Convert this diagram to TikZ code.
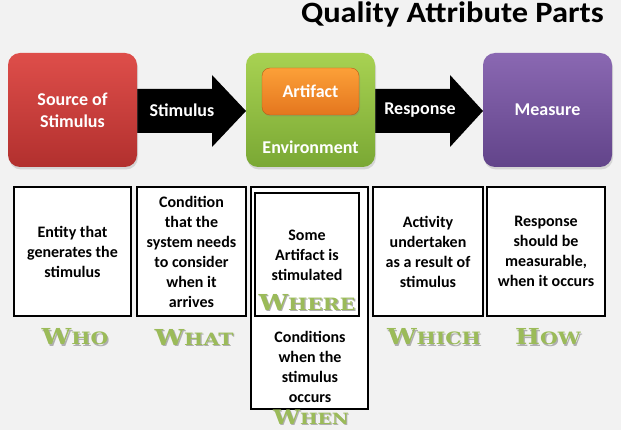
\documentclass[tikz,border=0pt]{standalone}
\usepackage{fontspec}
\setmainfont{Carlito}
\newfontfamily\titlefont[FakeStretch=1.1]{Carlito}
\newfontfamily\cpfont[FakeStretch=1.2]{DejaVu Serif}
\usetikzlibrary{shadows}
\definecolor{bg}{RGB}{242,242,242}
\definecolor{redT}{RGB}{222,78,74}
\definecolor{redB}{RGB}{178,48,46}
\definecolor{grnT}{RGB}{168,210,82}
\definecolor{grnB}{RGB}{122,168,52}
\definecolor{orgT}{RGB}{252,160,56}
\definecolor{orgB}{RGB}{228,118,30}
\definecolor{purT}{RGB}{138,104,178}
\definecolor{purB}{RGB}{98,68,138}
\definecolor{lgreen}{RGB}{155,187,89}
\definecolor{lshadow}{RGB}{175,175,175}
\newcommand\cpword[2]{{\fontsize{22}{22}\selectfont #1}{\fontsize{17}{17}\selectfont #2}}
\newcommand\cpwordsm[2]{{\fontsize{20}{20}\selectfont #1}{\fontsize{15.5}{15.5}\selectfont #2}}
\tikzset{
  topbox/.style={rounded corners=12pt, minimum width=129pt, minimum height=114pt,
    shading=axis, shading angle=0, text=white, align=center,
    font=\bfseries\fontsize{18}{22}\selectfont,
    drop shadow={opacity=0.25, shadow xshift=1pt, shadow yshift=-2.5pt}},
  whitetxt/.style={text=white, align=center, font=\bfseries\fontsize{18}{22}\selectfont},
  blockarrow/.style={fill=black},
  descbox/.style={draw=black, line width=2.2pt, fill=white, minimum height=129pt,
    align=center, font=\bfseries\fontsize{16}{20}\selectfont, inner sep=0pt},
  desctxt/.style={align=center, font=\bfseries\fontsize{16}{20}\selectfont, inner sep=0pt},
  lbl/.style={text=lgreen, font=\cpfont\bfseries, inner sep=0pt},
  lblshadow/.style={text=lshadow, font=\cpfont\bfseries, inner sep=0pt}
}
\begin{document}
\begin{tikzpicture}[x=1pt,y=-1pt]
\fill[bg] (0,0) rectangle (621,430);
\useasboundingbox (0,0) rectangle (621,430);

% title
\node[anchor=base east, inner sep=0pt, font=\titlefont\fontsize{29.5}{34}\selectfont\bfseries] (title) at (604,23) {Quality Attribute Parts};

% block arrows (drawn first, behind boxes)
\fill[blockarrow] (137,89) -- (212,89) -- (212,75) -- (246,111) -- (212,147) -- (212,133) -- (137,133) -- cycle;
\fill[blockarrow] (375,89) -- (450,89) -- (450,75) -- (483,111) -- (450,147) -- (450,133) -- (375,133) -- cycle;

% top boxes
\node[topbox, top color=redT, bottom color=redB] (src) at (72.5,110) {Source of\\Stimulus};
\node[topbox, top color=grnT, bottom color=grnB] (env) at (310.5,110) {};
\node[topbox, top color=purT, bottom color=purB] (meas) at (547.5,110) {Measure};
\node[rounded corners=8pt, minimum width=97pt, minimum height=47pt, shading=axis,
  top color=orgT, bottom color=orgB, draw=orgB!80!black, line width=0.4pt,
  drop shadow={opacity=0.3, shadow xshift=1pt, shadow yshift=-1.5pt}] (art) at (310.5,91.5) {};
\node[whitetxt] (arttxt) at (art) {Artifact};
\node[whitetxt] (envtxt) at (310.5,147) {Environment};

% arrow labels
\node[whitetxt] (stim) at (182,110) {Stimulus};
\node[whitetxt] (resp) at (420,110) {Response};

% description boxes
\node[descbox, minimum width=117pt] (d1) at (72.5,251.5) {Entity that\\generates the\\stimulus};
\node[descbox, minimum width=109pt] (d2) at (191.5,251.5) {Condition\\that the\\system needs\\to consider\\when it\\arrives};
\node[descbox, minimum width=117pt, minimum height=222pt] (d3) at (309.5,298) {};
\node[descbox, minimum width=104pt, minimum height=123pt] (d3in) at (307,254.5) {};
\node[desctxt] (d3txt) at (307,255) {Some\\Artifact is\\stimulated};
\node[desctxt] (d3low) at (310,367) {Conditions\\when the\\stimulus\\occurs};
\node[descbox, minimum width=110pt] (d4) at (428,251.5) {Activity\\undertaken\\as a result of\\stimulus};
\node[descbox, minimum width=118pt] (d5) at (546,251.5) {Response\\should be\\measurable,\\when it occurs};

% green labels
\node[lblshadow] at (76.2,338.5) {\cpword{W}{HO}};
\node[lbl] (who) at (75,337) {\cpword{W}{HO}};
\node[lblshadow] at (195.2,338.5) {\cpword{W}{HAT}};
\node[lbl] (what) at (194,337) {\cpword{W}{HAT}};
\node[lblshadow] at (308.2,303.5) {\cpword{W}{HERE}};
\node[lbl] (where) at (307,302) {\cpword{W}{HERE}};
\node[lblshadow] at (435.2,338.5) {\cpword{W}{HICH}};
\node[lbl] (which) at (434,337) {\cpword{W}{HICH}};
\node[lblshadow] at (549.2,338.5) {\cpword{H}{OW}};
\node[lbl] (how) at (548,337) {\cpword{H}{OW}};
\node[lblshadow] at (312,418) {\cpwordsm{W}{HEN}};
\node[lbl] (when) at (311,417) {\cpwordsm{W}{HEN}};
\end{tikzpicture}
\end{document}
